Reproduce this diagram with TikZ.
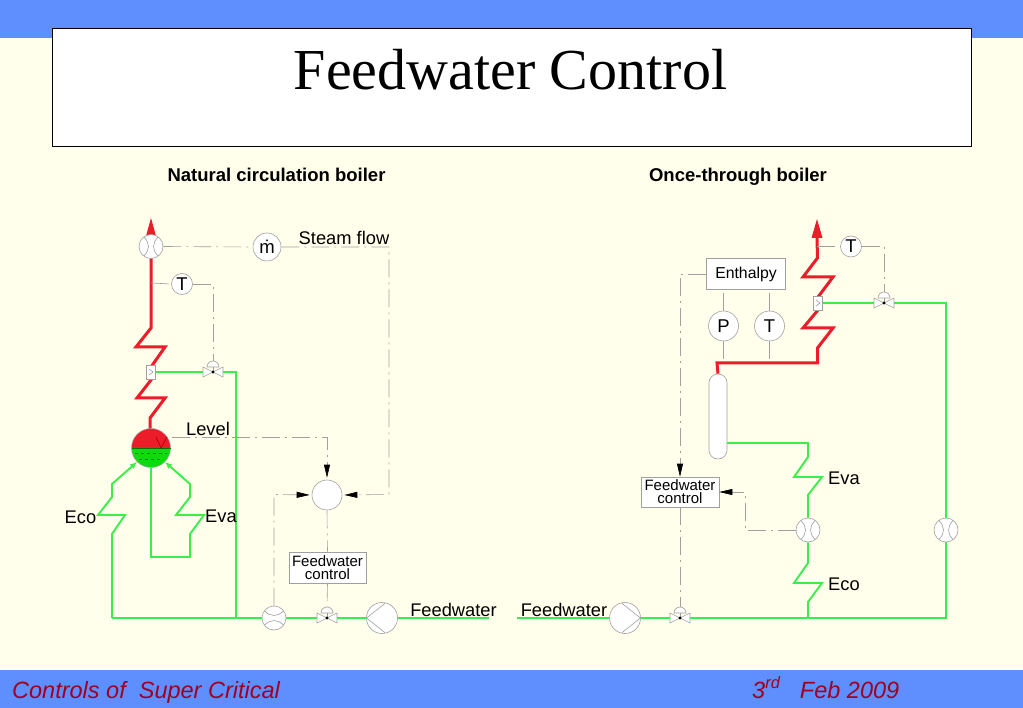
\documentclass[tikz,border=0pt]{standalone}
\usepackage{fontspec}
\setmainfont{Liberation Sans}
\newfontfamily\serifT{Liberation Serif}
\usetikzlibrary{arrows.meta,calc}
\definecolor{bgc}{HTML}{FFFFEB}
\definecolor{bandc}{HTML}{5F8FFF}
\definecolor{pipeg}{HTML}{3CEE4A}
\definecolor{piper}{HTML}{EC1C28}
\definecolor{symc}{HTML}{A0A0A0}
\definecolor{footc}{HTML}{A00020}
\tikzset{
  ctl/.style={draw=symc,line width=0.6pt,dash pattern=on 18pt off 5pt on 2pt off 5pt},
  ctlarrow/.style={ctl,-{Triangle[length=13pt,width=6pt,black]},shorten >=2pt},
  gpipe/.style={draw=pipeg,line width=1.9pt,line join=miter},
  rpipe/.style={draw=piper,line width=3pt,line join=miter},
  instr/.style={circle,draw=symc,fill=white,line width=0.6pt,inner sep=0pt,minimum size=#1},
  instrtxt/.style={font=\fontsize{18.5}{19}\selectfont},
  ctlbox/.style={rectangle,draw=symc,fill=white,line width=0.6pt,inner sep=0pt,align=center,minimum width=#1},
  lbl/.style={inner sep=0pt,font=\fontsize{18.3}{19}\selectfont},
  boxtxt/.style={font=\fontsize{15}{13}\selectfont},
  symline/.style={draw=symc,line width=0.6pt},
  head/.style={inner sep=0pt,anchor=base,font=\fontsize{18.5}{20}\bfseries\selectfont},
  foot/.style={inner sep=0pt,anchor=base west,text=footc,font=\fontsize{23.5}{25}\itshape\selectfont}
}
% valve: name, position
\newcommand{\valveat}[2]{%
  \node[inner sep=0pt,minimum width=20pt,minimum height=10pt] (#1) at (#2) {};
  \begin{scope}[shift={(#2)}]
    \draw[symline,fill=white] (-10,-5) -- (0,0) -- (-10,5) -- cycle;
    \draw[symline,fill=white] (10,-5) -- (0,0) -- (10,5) -- cycle;
    \draw[symline,fill=white] (-6,-5) arc[start angle=180,end angle=360,radius=6] -- cycle;
    \draw[symline] (0,-5) -- (0,0);
    \fill[black] (0,0) circle[radius=1.7];
    \coordinate (#1-top) at (0,-11);
  \end{scope}}
% flow meter: name, position, rotation
\newcommand{\meterat}[3]{%
  \node[instr=24pt] (#1) at (#2) {};
  \begin{scope}[shift={(#2)},rotate=#3]
    \draw[symline] (-7,-9.5) .. controls (-1,-3) and (-1,3) .. (-7,9.5);
    \draw[symline] (7,-9.5) .. controls (1,-3) and (1,3) .. (7,9.5);
  \end{scope}}
% pump: name, position, direction sign
\newcommand{\pumpat}[3]{%
  \node[instr=31pt] (#1) at (#2) {};
  \begin{scope}[shift={(#2)},xscale=#3]
    \draw[symline] (-3,-14.6) -- (15.5,0) -- (-3,14.6);
  \end{scope}}
% attemperator: name, position
\newcommand{\attat}[2]{%
  \node[rectangle,draw=symc,fill=white,line width=0.6pt,inner sep=0pt,minimum width=9pt,minimum height=14pt] (#1) at (#2) {};
  \begin{scope}[shift={(#2)}]
    \draw[symline] (-2,-3) -- (2,0) -- (-2,3);
  \end{scope}}
\begin{document}
\begin{tikzpicture}[x=1pt,y=-1pt]
\useasboundingbox (0,0) rectangle (1023,708);
\fill[bgc] (0,0) rectangle (1023,708);
\fill[bandc] (0,0) rectangle (1023,38);
\fill[bandc] (0,670) rectangle (1023,708);
\node[draw=black,fill=white,line width=0.7pt,minimum width=919pt,minimum height=118pt,inner sep=0pt] (titlebox) at (511.5,87) {};
\node[inner sep=0pt,font=\fontsize{58}{60}\serifT\selectfont] (title) at (510.5,70) {Feedwater Control};
\node[foot] (footl) at (12,698) {Controls of\ \ Super Critical};
\node[foot] (footr) at (752,698) {3\textsuperscript{rd}\ \ \ Feb 2009};
\node[head] (hl) at (276.5,182) {Natural circulation boiler};
\node[head] (hr) at (738,182) {Once-through boiler};

%%%%% LEFT
% red line and drum
\node[circle,inner sep=0pt,minimum size=39pt] (drum) at (151,448) {};
\coordinate (lr0) at (151,237);
\coordinate (tapT) at (151,283);
\draw[rpipe] (lr0) -- (151,328) -- (136,347) -- (165,347) -- (151,367) -- (151,380) -- (137,398) -- (165,398) -- (150,418) -- (150,432);
\fill[piper] (151,218) -- (145.5,238) -- (156.5,238) -- cycle;
\fill[piper] (131.5,448) arc[start angle=180,end angle=360,radius=19.5] -- cycle;
\fill[green!85!black!95!white] (131.5,448) arc[start angle=180,end angle=0,radius=19.5] -- cycle;
\draw[draw=black!35,line width=0.5pt] (151,448) circle[radius=19.5];
\draw[draw=green!45!black,line width=0.6pt] (131.5,448) -- (170.5,448);
\draw[draw=green!45!black,line width=0.5pt,dashed] (135,453) -- (167,453);
\draw[draw=green!45!black,line width=0.5pt,dashed] (139,459) -- (163,459);
\draw[draw=red!60!black,line width=0.5pt] (156,437) -- (161,448) -- (167,437);

% valves and instruments
\meterat{FT1}{151,246.5}{0}
\attat{A1}{151,372}
\valveat{V1}{213,372}
\node[instr=21pt,instrtxt] (T1) at (182,284) {T};
\node[instr=28pt,instrtxt] (M) at (267,247) {\.{m}};
\node[instr=30pt] (SUM) at (327,495) {};
\node[ctlbox=77pt,minimum height=31pt,boxtxt] (FC1) at (327.5,567.5) {Feedwater\\control};
\meterat{FT2}{274,618}{90}
\valveat{V2}{327,618}
\pumpat{P1}{382,618}{-1}

% green
\coordinate (g1a) at (236,372);
\coordinate (g1b) at (236,618);
\coordinate (g1c) at (112,618);
\coordinate (g1e) at (489,618);
\draw[gpipe] (A1.east) -- (V1.west);
\draw[gpipe] (V1.east) -- (g1a) -- (g1b);
\draw[gpipe] (g1c) -- (FT2.west);
\draw[gpipe] (FT2.east) -- (V2.west);
\draw[gpipe] (V2.east) -- (P1.west);
\draw[gpipe] (P1.east) -- (g1e);
\draw[gpipe,-{Latex[length=7pt,width=6pt]}] (g1c) -- (112,534) -- (125,515) -- (98,515) -- (112,497) -- (112,484) -- (drum.225);
\draw[gpipe,-{Latex[length=7pt,width=6pt]}] (drum.south) -- (151,557) -- (190,557) -- (190,534) -- (204,515) -- (176,515) -- (190,497) -- (190,484) -- (drum.315);

% control lines
\coordinate (tT1) at (213,284);
\coordinate (c1) at (389,247);
\coordinate (c2) at (389,494.5);
\coordinate (c3) at (327,437);
\coordinate (c4) at (274,494.5);
\coordinate (lvl) at (172,437);
\draw[ctl] (FT1.east) -- (M.west);
\draw[ctl] (tapT) -- (T1.west);
\draw[ctl] (T1.east) -- (tT1) -- (V1-top);
\draw[ctlarrow] (M.east) -- (c1) -- (c2) -- (SUM.east);
\draw[ctlarrow] (lvl) -- (c3) -- (SUM.north);
\draw[ctlarrow] (FT2.north) -- (c4) -- (SUM.west);
\draw[ctl] (SUM.south) -- (FC1.north);
\draw[ctl] (FC1.south) -- (V2-top);

% labels
\node[lbl] (steam) at (344,237.5) {Steam flow};
\node[lbl] (level) at (208,428.5) {Level};
\node[lbl] (eco1) at (80.5,517) {Eco};
\node[lbl] (eva1) at (221,516) {Eva};
\node[lbl] (fw1) at (453.5,609.5) {Feedwater};
\node[lbl] (fw2) at (564,609.5) {Feedwater};

%%%%% RIGHT
\node[rectangle,draw=symc,fill=white,line width=0.6pt,rounded corners=8.9pt,minimum width=18pt,minimum height=85pt,inner sep=0pt] (VES) at (718,416.5) {};
\coordinate (rr0) at (817,238);
\coordinate (rr1) at (717,363);
\draw[rpipe] (rr0) -- (817.5,258) -- (803,277) -- (833,277) -- (818,297) -- (818,310) -- (803,328) -- (833,328) -- (817.5,348) -- (817.5,363) -- (rr1) -- (VES.north);
\fill[piper] (817,219) -- (811.5,238) -- (822.5,238) -- cycle;
\attat{A2}{818,303}
\valveat{V3}{884,303}
\valveat{V4}{680,618}
\node[instr=21pt,instrtxt] (T2) at (851,246.5) {T};
\node[instr=30pt,instrtxt] (PP) at (723.5,326) {P};
\node[instr=30pt,instrtxt] (TT) at (769.5,326) {T};
\node[ctlbox=79pt,minimum height=31pt,font=\fontsize{15.8}{17}\selectfont] (ENT) at (746,274) {Enthalpy};
\node[ctlbox=78pt,minimum height=30pt,boxtxt] (FC2) at (680,492) {Feedwater\\control};
\meterat{FT3}{808,530}{0}
\meterat{FT4}{946,530}{0}
\pumpat{P2}{625,618}{1}

% green
\coordinate (g2a) at (946,303);
\coordinate (g2b) at (946,618);
\coordinate (g2c) at (517,618);
\coordinate (g2d) at (808,618);
\coordinate (g2v) at (727,443);
\draw[gpipe] (A2.east) -- (V3.west);
\draw[gpipe] (V3.east) -- (g2a) -- (FT4.north);
\draw[gpipe] (FT4.south) -- (g2b) -- (V4.east);
\draw[gpipe] (g2c) -- (P2.west);
\draw[gpipe] (P2.east) -- (V4.west);
\draw[gpipe] (g2v) -- (808,443) -- (808,457) -- (794,477) -- (822,477) -- (808,495) -- (FT3.north);
\draw[gpipe] (FT3.south) -- (808,563) -- (794,583) -- (822,583) -- (808,602) -- (g2d);

% control
\coordinate (tap2) at (817,246.5);
\coordinate (tT2) at (884,246.5);
\coordinate (e1) at (680,274);
\coordinate (e2) at (745,530);
\coordinate (e3) at (745,492);
\draw[ctl] (tap2) -- (T2.west);
\draw[ctl] (T2.east) -- (tT2) -- (V3-top);
\draw[ctl] (PP.north) -- (ENT.south -| PP.north);
\draw[ctl] (TT.north) -- (ENT.south -| TT.north);
\draw[ctl] (PP.south) -- (PP.south |- rr1);
\draw[ctl] (TT.south) -- (TT.south |- rr1);
\draw[ctlarrow,shorten >=0pt] (ENT.west) -- (e1) -- (FC2.north);
\draw[ctlarrow,shorten >=0pt] (FT3.west) -- (e2) -- (e3) -- (FC2.east);
\draw[ctl] (FC2.south) -- (V4-top);

\node[lbl] (eva2) at (844,478) {Eva};
\node[lbl] (eco2) at (844,584) {Eco};
\end{tikzpicture}
\end{document}
